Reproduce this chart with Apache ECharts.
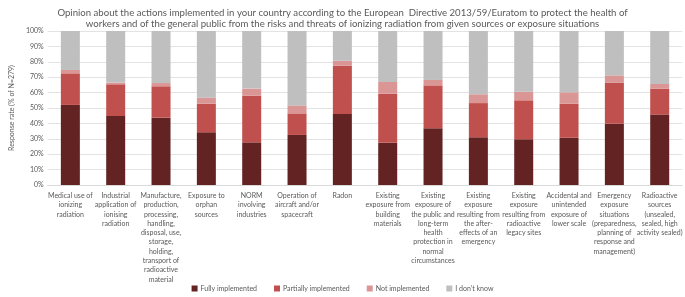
<!DOCTYPE html>
<html>
<head>
<meta charset="utf-8">
<script src="https://cdn.jsdelivr.net/npm/echarts@6/dist/echarts.min.js"></script>
<style>
    html, body {margin: 0; padding: 0; background: #fff;}
    #chart {width: 685px; height: 297px;}
</style>
</head>
<body>
<div id="chart"></div>
<script>
    // categories (line breaks as in the original)
    const categories = [
        'Medical use of\nionizing\nradiation',
        'Industrial\napplication of\nionising\nradiation',
        'Manufacture,\nproduction,\nprocessing,\nhandling,\ndisposal, use,\nstorage,\nholding,\ntransport of\nradioactive\nmaterial',
        'Exposure to\norphan\nsources',
        'NORM\ninvolving\nindustries',
        'Operation of\naircraft and/or\nspacecraft',
        'Radon',
        'Existing\nexposure from\nbuilding\nmaterials',
        'Existing\nexposure of\nthe public and\nlong-term\nhealth\nprotection in\nnormal\ncircumstances',
        'Existing\nexposure\nresulting from\nthe after-\neffects of an\nemergency',
        'Existing\nexposure\nresulting from\nradioactive\nlegacy sites',
        'Accidental and\nunintended\nexposure of\nlower scale',
        'Emergency\nexposure\nsituations\n(preparedness,\nplanning of\nresponse and\nmanagement)',
        'Radioactive\nsources\n(unsealed,\nsealed, high\nactivity sealed)'
    ];

    // % of respondents
    const fully = [52.0, 44.8, 43.7, 34.2, 27.7, 32.5, 46.1, 27.5, 36.8, 31.0, 29.7, 30.7, 39.8, 45.7];
    const partially = [20.5, 20.6, 20.4, 18.6, 30.3, 14.0, 31.4, 31.8, 27.9, 22.2, 25.3, 22.1, 26.7, 16.9];
    const notImpl = [2.2, 1.1, 2.1, 3.9, 4.6, 5.2, 3.2, 7.6, 3.5, 5.7, 5.6, 7.4, 4.7, 3.0];
    const dontKnow = [25.3, 33.5, 33.8, 43.3, 37.4, 48.3, 19.3, 33.1, 31.8, 41.1, 39.4, 39.8, 28.8, 34.4];

    const seriesNames = ['Fully implemented', 'Partially implemented', 'Not implemented', 'I don\u2019t know'];
    const colors = ['#632322', '#c0504d', '#d99694', '#bfbfbf'];

    const font = 'Lato, "Open Sans", sans-serif';
    const chart = echarts.init(document.getElementById('chart'));

    const mk = (name, data, i) => ({
        name: name,
        type: 'bar',
        stack: 'total',
        data: data,
        barWidth: 19,
        itemStyle: {color: colors[i]}
    });

    chart.setOption({
        animation: false,
        color: colors,
        textStyle: {fontFamily: font},
        title: {
            text: 'Opinion about the actions implemented in your country according to the European  Directive 2013/59/Euratom to protect the health of\nworkers and of the general public from the risks and threats of ionizing radiation from given sources or exposure situations',
            left: 'center',
            top: 2,
            textStyle: {fontSize: 9.6, fontWeight: 'normal', color: '#595959', lineHeight: 11, fontFamily: font}
        },
        legend: {
            bottom: 0,
            left: 'center',
            itemWidth: 6,
            itemHeight: 6,
            itemGap: 17,
            icon: 'rect',
            textStyle: {fontSize: 7, color: '#595959', padding: [0, 0, 0, -2]},
            data: seriesNames
        },
        grid: {left: 33, right: 2, top: 31, bottom: 112},
        xAxis: {
            type: 'category',
            data: categories,
            axisTick: {show: false},
            axisLine: {lineStyle: {color: '#d9d9d9'}},
            axisLabel: {
                interval: 0,
                fontSize: 7,
                lineHeight: 9.3,
                color: '#595959',
                margin: 6
            }
        },
        yAxis: {
            type: 'value',
            min: 0,
            max: 100,
            interval: 10,
            name: 'Response rate (% of N=279)',
            nameLocation: 'middle',
            nameGap: 27,
            nameTextStyle: {fontSize: 7, color: '#595959'},
            axisLabel: {formatter: '{value}%', fontSize: 7, color: '#595959', margin: 4},
            splitLine: {lineStyle: {color: '#e3e3e3'}},
            axisLine: {show: false},
            axisTick: {show: false}
        },
        series: [
            mk(seriesNames[0], fully, 0),
            mk(seriesNames[1], partially, 1),
            mk(seriesNames[2], notImpl, 2),
            mk(seriesNames[3], dontKnow, 3)
        ]
    });
</script>
</body>
</html>
